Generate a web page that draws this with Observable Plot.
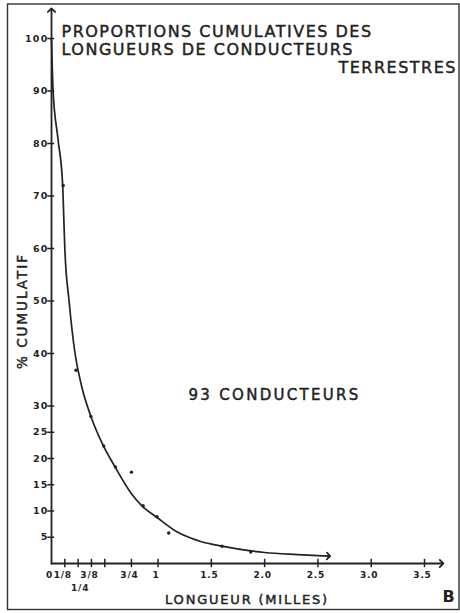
<!DOCTYPE html>
<html><head><meta charset="utf-8">
<script src="https://cdn.jsdelivr.net/npm/d3@7"></script>
<script src="https://cdn.jsdelivr.net/npm/@observablehq/plot@0.6"></script>
<style>
html,body{margin:0;padding:0;background:#fff;}
svg{display:block}
g[aria-description="title"] text{letter-spacing:1.5px}
g[aria-description="subtitle"] text{letter-spacing:1.5px}
g[aria-description="count"] text{letter-spacing:2.3px}
g[aria-description="ylabel"] text{letter-spacing:2px}
g[aria-description="xlabel"] text{letter-spacing:1.8px}
g[aria-description="yticklabels"] text{letter-spacing:1.2px}
g[aria-description="xticklabels"] text{letter-spacing:0.8px}
</style></head><body><div id="chart"></div>
<script>
// observed data points (length in miles, cumulative %)
const pointX = [0.11, 0.23, 0.37, 0.49, 0.60, 0.75, 0.86, 0.99, 1.10, 1.60, 1.87, 2.60];
const pointY = [72, 36.8, 28, 22.4, 18.4, 17.4, 11, 8.9, 5.8, 3.3, 2.2, 1.4];
// fitted curve
const curveX = [0, 0.015, 0.06, 0.105, 0.115, 0.125, 0.165, 0.221, 0.28, 0.37, 0.487, 0.596, 0.75, 0.853, 0.987, 1.18, 1.30, 1.40, 1.60, 1.87, 2.0, 2.31, 2.60];
const curveY = [100, 90, 81, 72, 66, 60, 50, 40, 34, 28, 22.4, 18.4, 13.3, 10.9, 8.8, 6.0, 4.9, 4.2, 3.3, 2.4, 2.1, 1.7, 1.4];
// axes
const xTickValues = [0.125, 0.25, 0.375, 0.5, 0.75, 1, 1.5, 2, 2.5, 3, 3.5];
const xLabelValues = [0, 0.125, 0.375, 0.75, 1, 1.5, 2, 2.5, 3, 3.5];
const xLabelTexts = ["0", "1/8", "3/8", "3/4", "1", "1.5", "2.0", "2.5", "3.0", "3.5"];
const xLabel2Values = [0.25];
const xLabel2Texts = ["1/4"];
const yTickValues = [5, 10, 15, 20, 25, 30, 40, 50, 60, 70, 80, 90, 100];
const yTickTexts = ["5", "10", "15", "20", "25", "30", "40", "50", "60", "70", "80", "90", "100"];
const xAxisEnd = 3.66;
const yAxisEnd = 105.4;
const titleText = "PROPORTIONS CUMULATIVES DES\nLONGUEURS DE CONDUCTEURS";
const subtitleText = "TERRESTRES";
const countText = "93 CONDUCTEURS";
const yAxisLabel = "% CUMULATIF";
const xAxisLabel = "LONGUEUR (MILLES)";
const panelLetter = "B";

const ink = "#222";
const font = "DejaVu Sans";
const points = pointX.map((x, i) => ({x, y: pointY[i]}));
const curve = curveX.map((x, i) => ({x, y: curveY[i]}));
const xLabels = xLabelValues.map((v, i) => ({v, t: xLabelTexts[i]}));
const xLabels2 = xLabel2Values.map((v, i) => ({v, t: xLabel2Texts[i]}));
const yLabels = yTickValues.map((v, i) => ({v, t: yTickTexts[i]}));
const heavy = {fill: ink, stroke: ink, strokeWidth: 0.45, fontFamily: font};

const chart = Plot.plot({
  width: 460, height: 613,
  marginLeft: 51, marginRight: 36, marginTop: 38, marginBottom: 50,
  x: {domain: [0, 3.5], axis: null},
  y: {domain: [0, 100], axis: null},
  style: {background: "#fff", fontFamily: font, color: ink},
  marks: [
    Plot.frame({insetLeft: -44, insetTop: -34.5, insetRight: -34.5, insetBottom: -46, stroke: "#333", strokeWidth: 1.4}),
    // axes
    Plot.line([[0, 0], [0, yAxisEnd]], {stroke: ink, strokeWidth: 1.8, markerEnd: "arrow"}),
    Plot.line([[0, 0], [xAxisEnd, 0]], {stroke: ink, strokeWidth: 1.8, markerEnd: "arrow"}),
    Plot.ruleY(yTickValues, {x1: -0.035, x2: 0.03, stroke: ink, strokeWidth: 1.5}),
    Plot.ruleX(xTickValues, {y1: -0.8, y2: 0.8, stroke: ink, strokeWidth: 1.5}),
    Plot.text(yLabels, {ariaDescription: "yticklabels", x: 0, y: "v", text: "t", textAnchor: "end", lineAnchor: "middle", dx: -3, fontSize: 9.5, fontWeight: "bold", fill: ink, fontFamily: font}),
    Plot.text(xLabels, {ariaDescription: "xticklabels", x: "v", y: 0, text: "t", textAnchor: "middle", lineAnchor: "top", dy: 8.3, dx: -2, fontSize: 9, fontWeight: "bold", fill: ink, fontFamily: font}),
    Plot.text(xLabels2, {ariaDescription: "xticklabels", x: "v", y: 0, text: "t", textAnchor: "middle", lineAnchor: "top", dy: 21.3, dx: 2, fontSize: 9, fontWeight: "bold", fill: ink, fontFamily: font}),
    // curve and data
    Plot.line(curve, {x: "x", y: "y", curve: "monotone-x", stroke: ink, strokeWidth: 1.7, markerEnd: "arrow"}),
    Plot.dot(points, {x: "x", y: "y", r: 1.7, fill: ink}),
    // text
    Plot.text([titleText], {ariaDescription: "title", frameAnchor: "top-left", textAnchor: "start", lineAnchor: "top", dx: 10, dy: -14.4, fontSize: 16, lineHeight: 1.125, ...heavy}),
    Plot.text([subtitleText], {ariaDescription: "subtitle", frameAnchor: "top-right", textAnchor: "end", lineAnchor: "top", dx: 32.5, dy: 23.6, fontSize: 16, ...heavy}),
    Plot.text([countText], {ariaDescription: "count", frameAnchor: "top-left", textAnchor: "start", lineAnchor: "top", dx: 137, dy: 350.4, fontSize: 15, ...heavy}),
    Plot.text([yAxisLabel], {ariaDescription: "ylabel", frameAnchor: "left", textAnchor: "middle", lineAnchor: "middle", rotate: -90, dx: -29, dy: 10, fontSize: 13.5, ...heavy}),
    Plot.text([xAxisLabel], {ariaDescription: "xlabel", frameAnchor: "bottom", textAnchor: "middle", lineAnchor: "top", dx: 9, dy: 30.8, fontSize: 13, ...heavy}),
    Plot.text([panelLetter], {frameAnchor: "bottom-right", textAnchor: "middle", lineAnchor: "top", dx: 24, dy: 27.3, fontSize: 16, fontWeight: "bold", fill: ink, fontFamily: font})
  ]
});
document.getElementById("chart").appendChild(chart);
</script>
</body></html>
